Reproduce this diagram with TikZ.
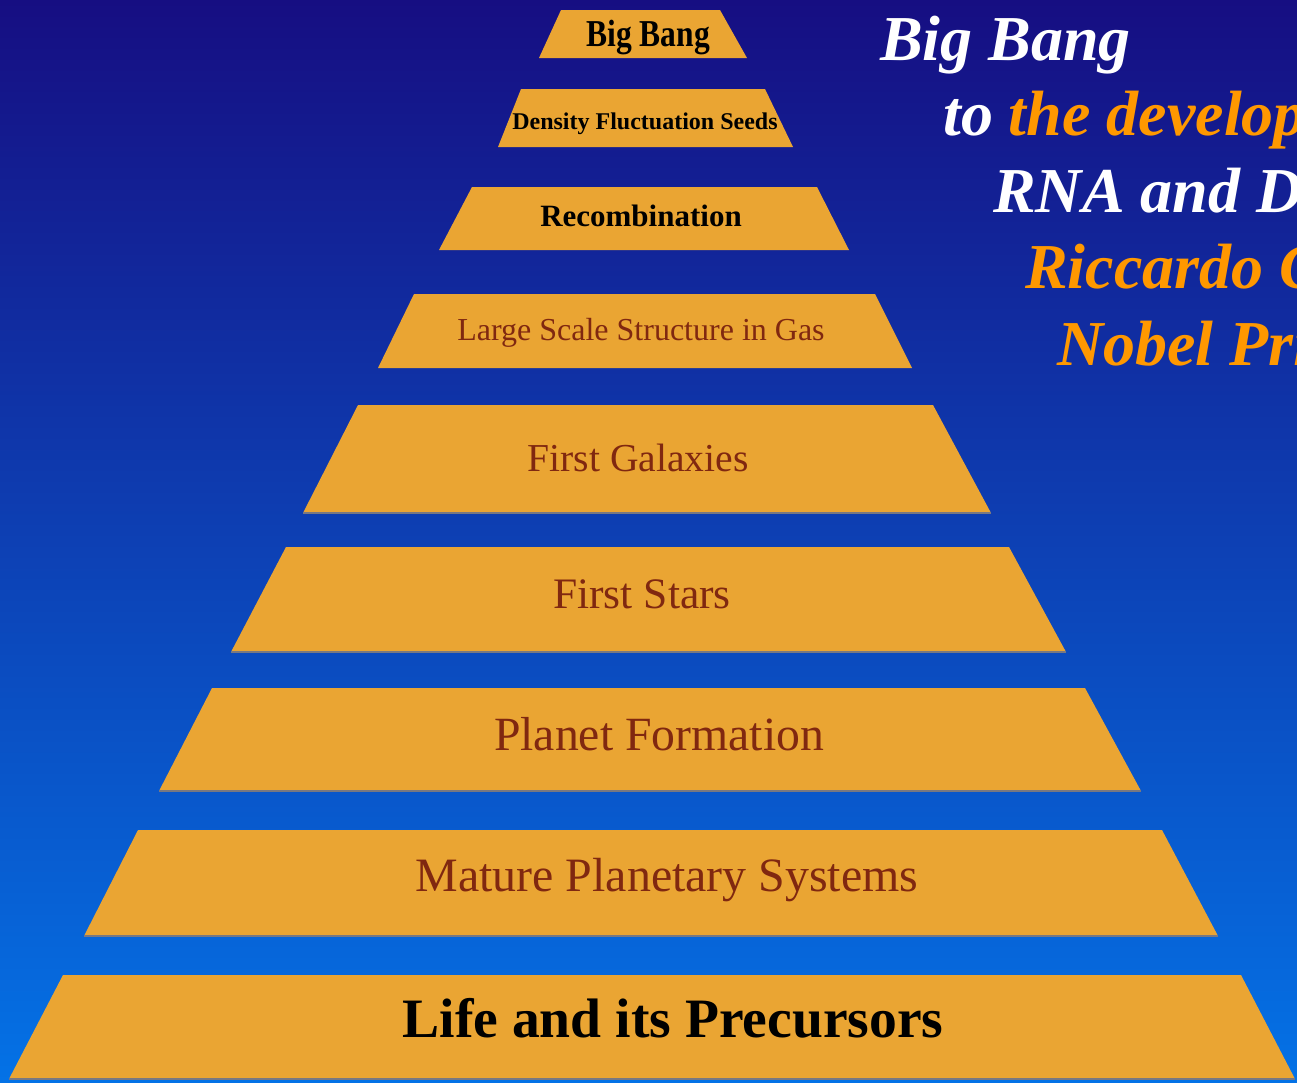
\documentclass[tikz,border=0pt]{standalone}
\usepackage{fontspec}
\setmainfont{Liberation Serif}
\usepackage{graphicx}
\definecolor{tierfill}{RGB}{234,165,51}
\definecolor{tieredge}{RGB}{120,120,130}
\definecolor{tiertext}{RGB}{128,40,16}
\definecolor{titleorange}{RGB}{255,152,0}
\definecolor{bgtop}{RGB}{22,14,130}
\definecolor{bgmid}{RGB}{10,62,180}
\definecolor{bgbot}{RGB}{4,114,230}
\begin{document}
\begin{tikzpicture}[x=1pt,y=-1pt,
  tier/.style={fill=tierfill},
  tierline/.style={draw=tieredge,line width=1.2pt},
  boldlabel/.style={anchor=base,inner sep=0pt,text=black,font=\bfseries},
  plainlabel/.style={anchor=base,inner sep=0pt,text=tiertext},
  titleline/.style={anchor=base west,inner sep=0pt,text=white,font=\fontsize{64}{70}\selectfont\bfseries\itshape}]
\clip (0,0) rectangle (1297,1082);
\shade[top color=bgtop, middle color=bgmid, bottom color=bgbot] (0,0) rectangle (1297,1082);

% tiers
\fill[tier] (561,10) -- (720,10) -- (747,58) -- (539,58) -- cycle;
\fill[tier] (521,89) -- (765,89) -- (793,147) -- (498,147) -- cycle;
\fill[tier] (472,187) -- (817,187) -- (849,250) -- (439,250) -- cycle;
\fill[tier] (414,294) -- (875,294) -- (912,368) -- (378,368) -- cycle;
\fill[tier] (358,405) -- (933,405) -- (991,513) -- (303,513) -- cycle;
\fill[tier] (286,547) -- (1009,547) -- (1066,652) -- (231,652) -- cycle;
\fill[tier] (212,688) -- (1085,688) -- (1141,791) -- (159,791) -- cycle;
\fill[tier] (138,830) -- (1162,830) -- (1218,936) -- (84,936) -- cycle;
\fill[tier] (63,975) -- (1241,975) -- (1295,1079) -- (9,1079) -- cycle;
\draw[tierline] (303,513) -- (991,513);
\draw[tierline] (231,652) -- (1066,652);
\draw[tierline] (159,791) -- (1141,791);
\draw[tierline] (84,936) -- (1218,936);
\draw[tierline] (9,1079) -- (1295,1079);

% labels
\node[boldlabel,font=\fontsize{38}{44}\selectfont\bfseries] (l1) at (648,46) {\scalebox{0.83}[1]{Big Bang}};
\node[boldlabel,font=\fontsize{24}{29}\selectfont\bfseries] (l2) at (645,129) {Density Fluctuation Seeds};
\node[boldlabel,font=\fontsize{31}{36}\selectfont\bfseries] (l3) at (641,226) {Recombination};
\node[plainlabel,font=\fontsize{32}{38}\selectfont] (l4) at (641,340) {Large Scale Structure in Gas};
\node[plainlabel,font=\fontsize{39.6}{46}\selectfont] (l5) at (638,471) {First Galaxies};
\node[plainlabel,font=\fontsize{43.5}{50}\selectfont] (l6) at (642,608) {First Stars};
\node[plainlabel,font=\fontsize{47.7}{54}\selectfont] (l7) at (659,750) {Planet Formation};
\node[plainlabel,font=\fontsize{47.9}{54}\selectfont] (l8) at (667,891) {Mature Planetary Systems};
\node[boldlabel,font=\fontsize{55.6}{62}\selectfont\bfseries] (l9) at (673,1037) {Life and its Precursors};

% title
\node[titleline] (h1) at (880,60) {Big Bang};
\node[titleline] (h2) at (943,135) {to \textcolor{titleorange}{the develop}};
\node[titleline] (h3) at (993,212) {RNA and D};
\node[titleline,text=titleorange] (h4) at (1025,288) {Riccardo G};
\node[titleline,text=titleorange] (h5) at (1057,365) {Nobel Pri};
\end{tikzpicture}
\end{document}
